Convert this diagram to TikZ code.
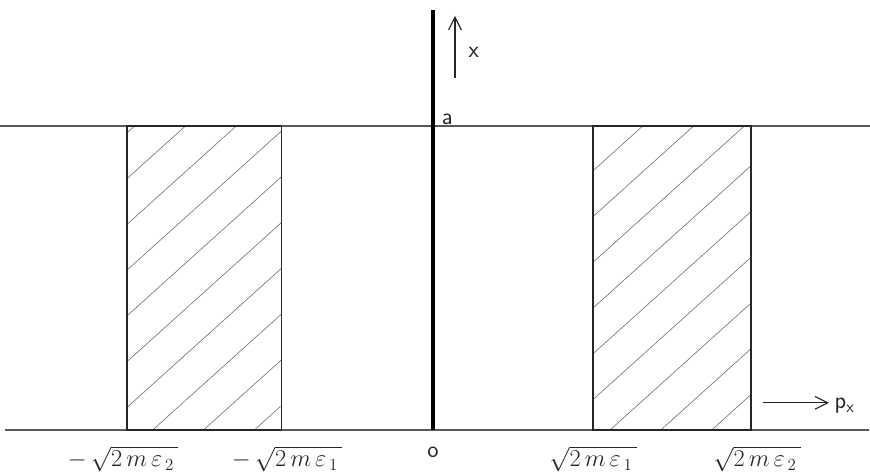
\documentclass[tikz,border=0pt]{standalone}
\usepackage{amsmath, amssymb}
\usepackage{tikz}
\usetikzlibrary{arrows.meta, patterns.meta, positioning}
\tikzset{
    base_line/.style={
        draw=black!65, line width=1.1pt
    },
    wall_line/.style={
        draw=black!85, line width=1.0pt
    },
    axis_line/.style={
        draw=black, line width=2.2pt
    },
    hatch_box/.style={
        wall_line, pattern={Lines[angle=42, distance=0.85cm, line width=0.45pt]},
        pattern color=black!55
    },
    axis_arrow/.style={
        -{Straight Barb[length=3.2mm, width=3.2mm]}, draw=black!85, line width=0.8pt
    },
    lbl/.style={
        font=\fontsize{17}{19}\selectfont\sffamily, text=black!85, inner sep=1pt
    }
}

\begin{document}
\begin{tikzpicture}[>=Stealth]

    \useasboundingbox (-10.825, -1.15) rectangle (10.925, 10.75);

    % levels 0 and a
    \draw[base_line] (-10.7, 0) -- (10.9, 0);
    \draw[base_line] (-10.825, 7.6) -- (10.925, 7.6);

    % allowed momentum bands
    \draw[hatch_box] (-7.65, 0) rectangle (-3.78, 7.6);
    \draw[hatch_box] (4.0, 0) rectangle (7.95, 7.6);

    % x axis (vertical)
    \draw[axis_line] (0, 0) -- (0, 10.5);

    \coordinate (xfoot) at (0.55, 8.8);
    \coordinate (xtip) at (0.55, 10.35);
    \draw[axis_arrow] (xfoot) -- (xtip);
    \node[lbl, anchor=west] (xlab) at (0.85, 9.45) {x};
    \node[lbl, anchor=south west] (alab) at (0.18, 7.6) {a};

    \coordinate (pfoot) at (8.25, 0.68);
    \coordinate (ptip) at (9.9, 0.68);
    \draw[axis_arrow] (pfoot) -- (ptip);
    \node[lbl, anchor=west] (plab) at (10.0, 0.6) {p$_{\text{x}}$};

    % momentum values
    \node[lbl] (origin) at (0, -0.55) {o};
    \node[lbl] (mtwo) at (-7.75, -0.72) {$-\,\sqrt{2\,m\,\varepsilon_{\,2}\,}$};
    \node[lbl] (mone) at (-3.65, -0.72) {$-\,\sqrt{2\,m\,\varepsilon_{\,1}\,}$};
    \node[lbl] (pone) at (4.0, -0.72) {$\sqrt{2\,m\,\varepsilon_{\,1}\,}$};
    \node[lbl] (ptwo) at (8.1, -0.72) {$\sqrt{2\,m\,\varepsilon_{\,2}\,}$};

\end{tikzpicture}
\end{document}
